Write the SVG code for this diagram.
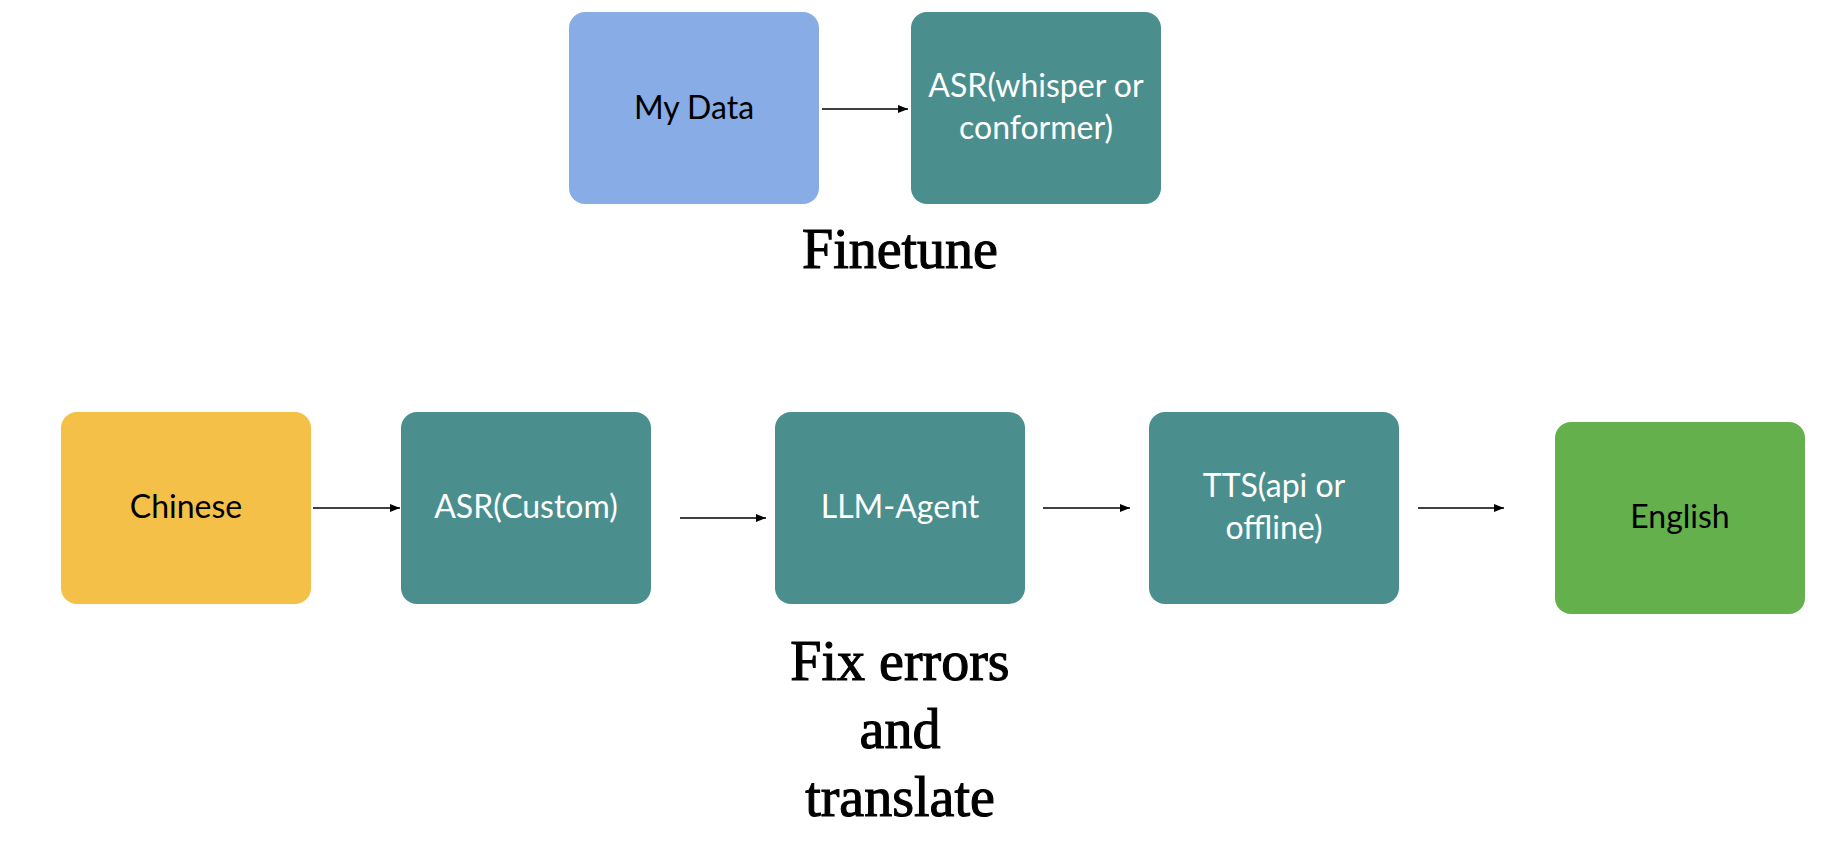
<svg xmlns="http://www.w3.org/2000/svg" width="1832" height="856" viewBox="0 0 1832 856">
<defs>
<style>
.box{stroke:none}
.lbl{font-family:Lato,"Noto Sans","Liberation Sans",sans-serif;font-size:32px;text-anchor:middle}
.w{fill:#ffffff}
.k{fill:#000000}
.title{font-family:"Liberation Serif","DejaVu Serif",serif;font-size:56px;text-anchor:middle;fill:#000;stroke:#000;stroke-width:1.1}
.conn{stroke:#000;stroke-width:1.6;fill:none;marker-end:url(#ah)}
</style>
<marker id="ah" markerUnits="userSpaceOnUse" markerWidth="10" markerHeight="8" refX="10" refY="4" orient="auto">
<path d="M0,0 L10,4 L0,8 z" fill="#000"/>
</marker>
</defs>
<rect width="1832" height="856" fill="#ffffff"/>
<g id="connectors">
<line class="conn" x1="822" y1="109" x2="908" y2="109"/>
<line class="conn" x1="313" y1="508" x2="400" y2="508"/>
<line class="conn" x1="680" y1="518" x2="766" y2="518"/>
<line class="conn" x1="1043" y1="508" x2="1130" y2="508"/>
<line class="conn" x1="1418" y1="508" x2="1504" y2="508"/>
</g>
<g id="mydata">
<rect class="box" x="569" y="12" width="250" height="192" rx="16" fill="#87ACE6"/>
<text class="lbl k" x="694" y="119">My Data</text>
</g>
<g id="asr-whisper">
<rect class="box" x="911" y="12" width="250" height="192" rx="16" fill="#4A8F8D"/>
<text class="lbl w" x="1036" y="97">ASR(whisper or</text>
<text class="lbl w" x="1036" y="139">conformer)</text>
</g>
<g id="finetune">
<text class="title" x="900" y="268">Finetune</text>
</g>
<g id="chinese">
<rect class="box" x="61" y="412" width="250" height="192" rx="16" fill="#F4C047"/>
<text class="lbl k" x="186" y="518">Chinese</text>
</g>
<g id="asr-custom">
<rect class="box" x="401" y="412" width="250" height="192" rx="16" fill="#4A8F8D"/>
<text class="lbl w" x="526" y="518">ASR(Custom)</text>
</g>
<g id="llm-agent">
<rect class="box" x="775" y="412" width="250" height="192" rx="16" fill="#4A8F8D"/>
<text class="lbl w" x="900" y="518">LLM-Agent</text>
</g>
<g id="tts">
<rect class="box" x="1149" y="412" width="250" height="192" rx="16" fill="#4A8F8D"/>
<text class="lbl w" x="1274" y="497">TTS(api or</text>
<text class="lbl w" x="1274" y="539">offline)</text>
</g>
<g id="english">
<rect class="box" x="1555" y="422" width="250" height="192" rx="16" fill="#64B04C"/>
<text class="lbl k" x="1680" y="528">English</text>
</g>
<g id="fix-errors">
<text class="title" x="900" y="680">Fix errors</text>
<text class="title" x="900" y="748">and</text>
<text class="title" x="900" y="816">translate</text>
</g>
</svg>
